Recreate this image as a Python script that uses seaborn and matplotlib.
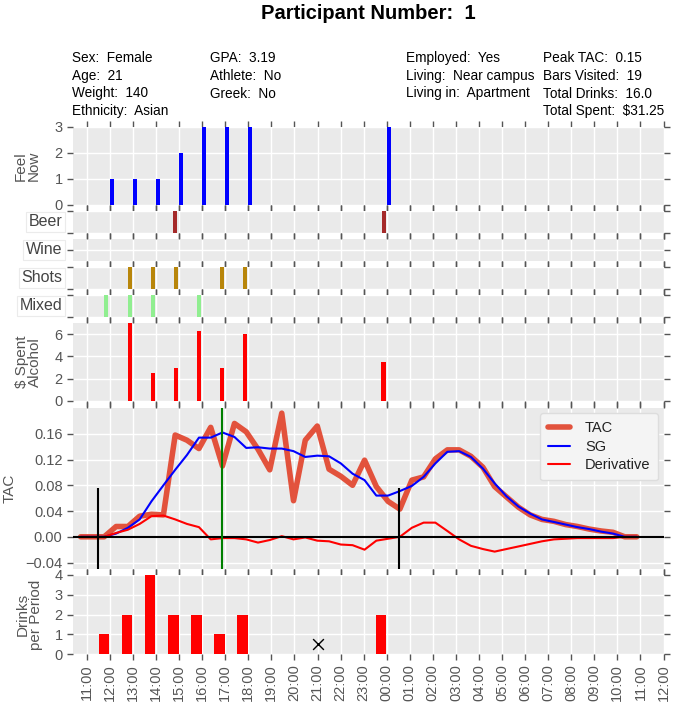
import matplotlib
matplotlib.use("Agg")
import matplotlib.pyplot as plt
import seaborn as sns
import pandas as pd

# ------------------------------------------------------------------ data
title_text = "Participant Number:  1"
info_col1 = ["Sex:  Female", "Age:  21", "Weight:  140", "Ethnicity:  Asian"]
info_col2 = ["GPA:  3.19", "Athlete:  No", "Greek:  No"]
info_col3 = ["Employed:  Yes", "Living:  Near campus", "Living in:  Apartment"]
info_col4 = ["Peak TAC:  0.15", "Bars Visited:  19", "Total Drinks:  16.0", "Total Spent:  $31.25"]

hour_ticks = [11, 12, 13, 14, 15, 16, 17, 18, 19, 20, 21, 22, 23, 24,
              25, 26, 27, 28, 29, 30, 31, 32, 33, 34, 35, 36]
hour_labels = ["11:00", "12:00", "13:00", "14:00", "15:00", "16:00", "17:00",
               "18:00", "19:00", "20:00", "21:00", "22:00", "23:00", "00:00",
               "01:00", "02:00", "03:00", "04:00", "05:00", "06:00", "07:00",
               "08:00", "09:00", "10:00", "11:00", "12:00"]

feel_hours = [12, 13, 14, 15, 16, 17, 18, 24]
feel_vals = [1, 1, 1, 2, 3, 3, 3, 3]

beer_hours = [14.75, 23.78]
wine_hours = []
shots_hours = [12.77, 13.76, 14.76, 16.77, 17.77]
mixed_hours = [11.75, 12.77, 13.76, 15.77]

spent_hours = [12.77, 13.77, 14.77, 15.77, 16.77, 17.77, 23.77]
spent_vals = [7, 2.5, 3, 6.25, 3, 6, 3.5]

tac_times = [10.73, 11.24, 11.75, 12.27, 12.78, 13.29, 13.80, 14.32, 14.83, 15.34,
             15.86, 16.37, 16.88, 17.40, 17.91, 18.42, 18.93, 19.45, 19.96, 20.47,
             20.99, 21.50, 22.01, 22.52, 23.04, 23.55, 24.06, 24.57, 25.09, 25.60,
             26.11, 26.63, 27.14, 27.65, 28.17, 28.68, 29.19, 29.71, 30.22, 30.73,
             31.25, 31.76, 32.27, 32.78, 33.30, 33.81, 34.32, 34.84]
tac_vals = [0, 0, 0, 0.016, 0.016, 0.032, 0.035, 0.034, 0.158, 0.150,
            0.137, 0.170, 0.110, 0.176, 0.163, 0.136, 0.104, 0.192, 0.056, 0.150,
            0.172, 0.105, 0.094, 0.080, 0.119, 0.078, 0.055, 0.043, 0.088, 0.093,
            0.121, 0.135, 0.135, 0.125, 0.108, 0.078, 0.062, 0.046, 0.034, 0.027,
            0.024, 0.019, 0.016, 0.012, 0.009, 0.007, 0.000, 0.000]
sg_vals = [0, 0, 0, 0.005, 0.014, 0.027, 0.055, 0.080, 0.104, 0.127,
           0.154, 0.154, 0.162, 0.155, 0.138, 0.139, 0.137, 0.137, 0.133, 0.124,
           0.126, 0.125, 0.114, 0.098, 0.088, 0.064, 0.064, 0.071, 0.079, 0.093,
           0.114, 0.132, 0.133, 0.124, 0.106, 0.083, 0.063, 0.047, 0.036, 0.027,
           0.023, 0.019, 0.015, 0.012, 0.008, 0.005, 0.000, 0.000]
deriv_vals = [0, 0, 0, 0.006, 0.011, 0.020, 0.032, 0.033, 0.027, 0.020,
              0.015, -0.004, -0.002, -0.002, -0.004, -0.009, -0.005, 0.001, -0.004, -0.001,
              -0.006, -0.007, -0.012, -0.013, -0.020, -0.006, -0.003, 0.000, 0.014, 0.022,
              0.022, 0.009, -0.004, -0.014, -0.019, -0.023, -0.019, -0.015, -0.011, -0.007,
              -0.004, -0.003, -0.002, -0.002, -0.002, -0.002, 0.000, 0.000]

event_black_hours = [11.48, 24.55]
event_black_top = 0.075
event_green_hour = 16.88

drinks_hours = [11.75, 12.75, 13.75, 14.75, 15.75, 16.75, 17.75, 23.75]
drinks_vals = [1, 2, 4, 2, 2, 1, 2, 2]
missing_hour = [21]
missing_val = [0.5]

# ------------------------------------------------------------------ style
sns.set_theme(style="darkgrid")
GREY = "#555555"
plt.rcParams.update({
    "font.family": ["Liberation Sans", "DejaVu Sans"],
    "axes.facecolor": "#EAEAEA",
    "grid.color": "white",
    "grid.linewidth": 1.0,
    "xtick.color": GREY,
    "ytick.color": GREY,
    "axes.labelcolor": GREY,
})

W, H = 680, 713
fig = plt.figure(figsize=(W / 100, H / 100), dpi=100)
left_px, right_px = 73, 663.5
panels_px = [(127, 205), (211, 233), (239, 261), (267, 289), (295, 317),
             (323, 401), (408, 569), (575, 654)]
axes = []
for top, bot in panels_px:
    ax = fig.add_axes([left_px / W, 1 - bot / H, (right_px - left_px) / W, (bot - top) / H])
    ax.set_xlim(10.4, 36.0)
    ax.set_xticks(hour_ticks)
    ax.tick_params(axis="x", which="both", bottom=True, top=True, direction="out",
                   length=4, width=1, color=GREY, labelbottom=False, labelsize=10.5)
    ax.tick_params(axis="y", which="both", left=True, right=True, direction="out",
                   length=4, width=1, color=GREY, labelsize=10.5)
    for s in ax.spines.values():
        s.set_visible(False)
    axes.append(ax)

ax_feel, ax_beer, ax_wine, ax_shots, ax_mixed, ax_spent, ax_tac, ax_drinks = axes


def vlabel(ax, text, xfrac):
    ax.set_ylabel(text, fontsize=11, linespacing=0.9, va="center", ha="center")
    ax.yaxis.set_label_coords(xfrac, 0.5)


bar_w = 0.18
# Feel now
ax_feel.bar(feel_hours, feel_vals, width=bar_w, align="edge", color="blue", linewidth=0)
ax_feel.set_ylim(0, 3)
ax_feel.set_yticks([0, 1, 2, 3])
vlabel(ax_feel, "Feel\nNow", -0.078)

# drink-type strips
strip_specs = [(ax_beer, beer_hours, "#A52A2A", "Beer"),
               (ax_wine, wine_hours, "#7B1E3A", "Wine"),
               (ax_shots, shots_hours, "#B8860B", "Shots"),
               (ax_mixed, mixed_hours, "#90EE90", "Mixed")]
for ax, hrs, col, lab in strip_specs:
    if hrs:
        ax.bar(hrs, [1] * len(hrs), width=bar_w, align="edge", color=col, linewidth=0)
        ax.set_ylim(0, 1)
        ax.set_yticks([0, 1])
    else:
        ax.set_ylim(-1, 1)
        ax.set_yticks([0])
    ax.set_yticklabels([])
    ax.set_ylabel(lab, rotation=0, ha="right", va="center", fontsize=11.5, color="#444444",
                  bbox=dict(facecolor="white", edgecolor="#EBEBEB", pad=2.0, linewidth=0.8))
    ax.yaxis.set_label_coords(-0.018, 0.5)

# $ spent
ax_spent.bar(spent_hours, spent_vals, width=bar_w, align="edge", color="red", linewidth=0)
ax_spent.set_ylim(0, 7)
ax_spent.set_yticks([0, 2, 4, 6])
vlabel(ax_spent, "$ Spent\nAlcohol", -0.076)

# TAC
tac_df = pd.DataFrame({"time": tac_times, "TAC": tac_vals, "SG": sg_vals, "Derivative": deriv_vals})
sns.lineplot(data=tac_df, x="time", y="TAC", ax=ax_tac, color="#E24A33", lw=4, label="TAC", alpha=0.95)
sns.lineplot(data=tac_df, x="time", y="SG", ax=ax_tac, color="blue", lw=1.5, label="SG")
sns.lineplot(data=tac_df, x="time", y="Derivative", ax=ax_tac, color="red", lw=1.5, label="Derivative")
ax_tac.axhline(0, color="black", lw=1.5, zorder=5)
ax_tac.vlines(event_black_hours, -0.05, event_black_top, color="black", lw=1.5, zorder=6)
ax_tac.axvline(event_green_hour, color="green", lw=1.5, zorder=6)
ax_tac.set_ylim(-0.05, 0.2)
ax_tac.set_yticks([-0.04, 0.0, 0.04, 0.08, 0.12, 0.16])
ax_tac.set_yticklabels(["\u22120.04", "0.00", "0.04", "0.08", "0.12", "0.16"])
ax_tac.set_xlim(10.4, 36.0)
ax_tac.set_xlabel("")
vlabel(ax_tac, "TAC", -0.1075)
leg = ax_tac.legend(loc="upper right", fontsize=10.5, frameon=True, facecolor="#F4F4F4",
                    edgecolor="#DDDDDD", framealpha=1, borderaxespad=0.35, handlelength=1.5,
                    handletextpad=1.0, borderpad=0.55, labelspacing=0.32)
for t in leg.get_texts():
    t.set_color("#222222")

# drinks per period
ax_drinks.bar(drinks_hours, drinks_vals, width=0.45, align="center", color="red", linewidth=0)
sns.scatterplot(x=missing_hour, y=missing_val, ax=ax_drinks, marker="x", color="black",
                s=60, linewidth=1.0, zorder=5)
ax_drinks.set_ylim(0, 4)
ax_drinks.set_yticks([0, 1, 2, 3, 4])
vlabel(ax_drinks, "Drinks\nper Period", -0.074)
ax_drinks.tick_params(axis="x", labelbottom=True)
ax_drinks.set_xticklabels(hour_labels, rotation=90, fontsize=10.5)
ax_drinks.set_xlim(10.4, 36.0)

# header
fig.text(368 / W, 1 - 13.5 / H, title_text, ha="center", va="center",
         fontsize=14.5, fontweight="bold", color="black")
col_x = [72, 209.5, 405.5, 543.4]
row_y = [58, 76, 93.5, 111]
for cx, col in zip(col_x, [info_col1, info_col2, info_col3, info_col4]):
    for ry, txt in zip(row_y, col):
        fig.text(cx / W, 1 - ry / H, txt, ha="left", va="center", fontsize=9.8, color="black")

fig.savefig("out.png", dpi=100)
